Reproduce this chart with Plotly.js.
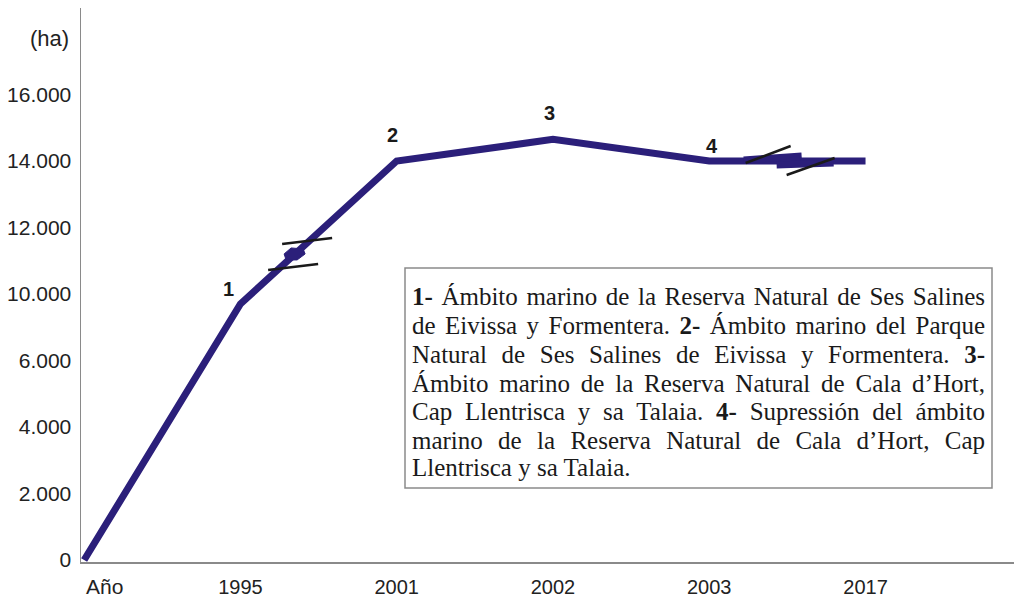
<!DOCTYPE html>
<html>
<head>
<meta charset="utf-8">
<script src="https://cdn.plot.ly/plotly-3.0.1.min.js"></script>
<style>html,body{margin:0;padding:0;background:#fff;}#chart{width:1014px;height:599px;}</style>
</head>
<body>
<div id="chart"></div>
<script>
// ---- data ----
const categories = ['Año', '1995', '2001', '2002', '2003', '2017'];
const areaHa = [0, 9400, 14000, 14650, 14000, 14000];
const pointLabels = ['', '1', '2', '3', '4', ''];
const yTickValues = [0, 2000, 4000, 6000, 10000, 12000, 14000, 16000];
const yTickLabels = ['0', '2.000', '4.000', '6.000', '10.000', '12.000', '14.000', '16.000'];
const noteLines = [
  '<b>1-</b> Ámbito marino de la Reserva Natural de Ses Salines',
  'de Eivissa y Formentera. <b>2-</b> Ámbito marino del Parque',
  'Natural de Ses Salines de Eivissa y Formentera. <b>3-</b>',
  'Ámbito marino de la Reserva Natural de Cala d’Hort,',
  'Cap Llentrisca y sa Talaia. <b>4-</b> Supressión del ámbito',
  'marino de la Reserva Natural de Cala d’Hort, Cap',
  'Llentrisca y sa Talaia.'
];

// broken axis: 6.000 -> 10.000 squeezed into one tick step
function brokenScale(v) {
  if (v <= 6000) return v;
  if (v < 10000) return 6000 + (v - 6000) / 2;
  return v - 2000;
}

const xIdx = categories.map((c, i) => i);
const yPos = areaHa.map(brokenScale);

const W = 1014, H = 599, L = 81, R = 0, T = 8, B = 37;
const pw = W - L - R, ph = H - T - B;
const px = x => (x - L) / pw;
const py = y => (H - B - y) / ph;

const lineColor = '#2b1f7a';
const sans = 'Liberation Sans, Arial, sans-serif';
const annFont = {family: sans, size: 20, color: '#1a1a1a'};

const annotations = [];
const labelShift = {1: [-12, 15], 2: [-4, 26], 3: [-3, 26], 4: [3, 15]};
pointLabels.forEach((t, i) => {
  if (!t) return;
  annotations.push({x: xIdx[i], y: yPos[i], xref: 'x', yref: 'y', text: '<b>' + t + '</b>',
    showarrow: false, xshift: labelShift[i][0], yshift: labelShift[i][1], font: annFont});
});
// y unit label
annotations.push({x: px(71), y: py(38), xref: 'paper', yref: 'paper', xanchor: 'right', yanchor: 'middle',
  text: '(ha)', showarrow: false, font: {family: sans, size: 22, color: '#222'}});
// first category label (left aligned at origin)
annotations.push({x: xIdx[0], y: py(586), xref: 'x', yref: 'paper', xanchor: 'left', yanchor: 'middle',
  text: categories[0], showarrow: false, font: {family: sans, size: 21, color: '#222'}});
// note box text
const noteY = [296, 325, 354, 383, 411, 440, 467];
noteLines.forEach((t, i) => {
  annotations.push({x: px(410), y: py(noteY[i]), xref: 'paper', yref: 'paper', xanchor: 'left', yanchor: 'middle',
    align: 'left', text: t, showarrow: false,
    font: {family: 'Liberation Serif, Times New Roman, serif', size: 25, color: '#1a1a1a'}});
});

// break decorations
const t1 = 0.35, t2 = 0.54;
const b1x = xIdx[1] + t1 * (xIdx[2] - xIdx[1]);
const b1y = yPos[1] + t1 * (yPos[2] - yPos[1]);
const b2x = xIdx[4] + t2 * (xIdx[5] - xIdx[4]);
const b2y = yPos[4] + t2 * (yPos[5] - yPos[4]);
function pix(ax, ay, extra) {
  return Object.assign({xref: 'x', yref: 'y', xsizemode: 'pixel', ysizemode: 'pixel', xanchor: ax, yanchor: ay}, extra);
}
const shapes = [
  {type: 'rect', xref: 'paper', yref: 'paper', x0: px(405), x1: px(992), y0: py(268), y1: py(488),
   line: {color: '#8a8a8a', width: 1.5}, fillcolor: 'rgba(0,0,0,0)'},
  pix(b1x, b1y, {type: 'path', path: 'M -11,0 L -4,6 L 8,5 L 10,0 L 2,-6 L -9,-6 Z', fillcolor: lineColor, line: {color: lineColor, width: 1}}),
  pix(b1x, b1y, {type: 'line', x0: -13, x1: 37, y0: 10, y1: 16, line: {color: '#1a1a1a', width: 2.5}}),
  pix(b1x, b1y, {type: 'line', x0: -27, x1: 23, y0: -16, y1: -10, line: {color: '#1a1a1a', width: 2.5}}),
  pix(b2x, b2y, {type: 'line', x0: -50, x1: 8, y0: 1, y1: 5, line: {color: lineColor, width: 7}}),
  pix(b2x, b2y, {type: 'line', x0: 6, x1: -14, y0: 3, y1: -3, line: {color: lineColor, width: 6}}),
  pix(b2x, b2y, {type: 'line', x0: -17, x1: 40, y0: -4, y1: -2, line: {color: lineColor, width: 7}}),
  pix(b2x, b2y, {type: 'line', x0: -48, x1: -3, y0: -2, y1: 15, line: {color: '#1a1a1a', width: 2.5}}),
  pix(b2x, b2y, {type: 'line', x0: -7, x1: 41, y0: -14, y1: 3, line: {color: '#1a1a1a', width: 2.5}})
];

const trace = {
  x: xIdx, y: yPos, type: 'scatter', mode: 'lines',
  line: {color: lineColor, width: 7}, hoverinfo: 'skip', cliponaxis: false
};

const layout = {
  width: W, height: H,
  margin: {l: L, r: R, t: T, b: B, pad: 0},
  paper_bgcolor: '#fff', plot_bgcolor: '#fff',
  showlegend: false,
  xaxis: {
    range: [-0.02, 5.95], tickvals: xIdx.slice(1), ticktext: categories.slice(1),
    showgrid: false, zeroline: false, showline: true, linecolor: '#8a8a8a', linewidth: 1.5,
    ticks: '', ticklabelstandoff: 6,
    tickfont: {family: sans, size: 20, color: '#222'}
  },
  yaxis: {
    range: [-60, 16602], tickvals: yTickValues.map(brokenScale), ticktext: yTickLabels,
    showgrid: false, zeroline: false, showline: true, linecolor: '#8a8a8a', linewidth: 1.5,
    ticks: '', ticklabelstandoff: 4,
    tickfont: {family: sans, size: 21, color: '#222'}
  },
  annotations: annotations,
  shapes: shapes
};

Plotly.newPlot('chart', [trace], layout, {displayModeBar: false, staticPlot: true}).then(() => {
  // justify the note paragraph (all lines except the last)
  const target = 984 - 411;
  const texts = document.querySelectorAll('.annotation-text');
  texts.forEach(el => {
    const content = el.textContent;
    const idx = noteLines.findIndex(s => s.replace(/<[^>]+>/g, '') === content);
    if (idx < 0 || idx === noteLines.length - 1) return;
    el.setAttribute('text-anchor', 'start');
    const w = el.getComputedTextLength();
    const spaces = (content.match(/ /g) || []).length;
    if (spaces > 0) el.style.wordSpacing = ((target - w) / spaces) + 'px';
  });
});
</script>
</body>
</html>
